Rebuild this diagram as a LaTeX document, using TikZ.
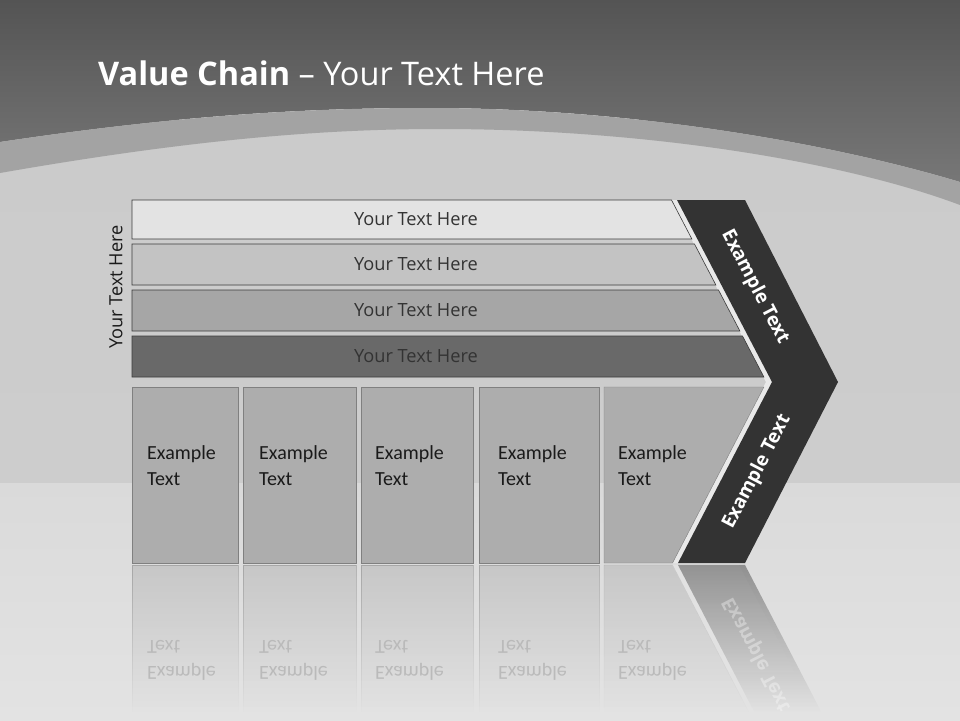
\documentclass[tikz,border=0pt]{standalone}
\usepackage{fontspec}
\setmainfont{Carlito}
\newfontfamily\slidefont{Open Sans}
\usetikzlibrary{calc, fadings}

\tikzfading[name=reflectFade, top color=transparent!55, middle color=transparent!82, bottom color=transparent!100]

\begin{document}
\begin{tikzpicture}[x=1pt, y=-1pt,
    barText/.style={font=\slidefont\fontsize{18.2}{22}\selectfont, text=barTextColour, inner sep=0pt},
    boxText/.style={font=\fontsize{20}{26}\selectfont, text=boxTextColour, align=left, anchor=north west, inner sep=0pt},
    armText/.style={font=\slidefont\bfseries\fontsize{19}{23}\selectfont, text=white, inner sep=0pt},
    mirrorText/.style={boxText, text=mirrorColour, yscale=-1},
    reflection/.style={path fading=reflectFade}]
    % Define colours
    \definecolor{titleTop}{HTML}{545454}
    \definecolor{titleBottom}{HTML}{777777}
    \definecolor{bandColour}{HTML}{A3A3A3}
    \definecolor{skyTop}{HTML}{CBCBCB}
    \definecolor{skyBottom}{HTML}{CDCDCD}
    \definecolor{streakColour}{HTML}{DCDCDC}
    \definecolor{floorTop}{HTML}{DADADA}
    \definecolor{floorBottom}{HTML}{E3E3E3}
    \definecolor{barBorder}{HTML}{3C3C3C}
    \definecolor{barOne}{HTML}{E3E3E3}
    \definecolor{barTwo}{HTML}{C3C3C3}
    \definecolor{barThree}{HTML}{A6A6A6}
    \definecolor{barFour}{HTML}{696969}
    \definecolor{barTextColour}{HTML}{333333}
    \definecolor{boxFill}{HTML}{ADADAD}
    \definecolor{boxBorder}{HTML}{808080}
    \definecolor{boxTextColour}{HTML}{1A1A1A}
    \definecolor{mirrorColour}{HTML}{BABABA}
    \definecolor{chevronFill}{HTML}{333333}
    \definecolor{haloColour}{HTML}{E9E9E9}

    % Define slope of the chevron edges
    \def\slope{0.522}

    % Fix the page size
    \useasboundingbox (0,0) rectangle (960,720);

    % Draw background
    \shade[top color=skyTop, bottom color=skyBottom] (0,120) rectangle (960,483);
    \shade[top color=skyBottom, middle color=streakColour, bottom color=skyBottom] (0,436) rectangle (960,462);
    \shade[top color=floorTop, bottom color=floorBottom] (0,483) rectangle (960,720);
    \shade[top color=titleTop, bottom color=titleBottom] (0,0) -- (960,0) -- (960,182)
        .. controls (820,140) and (620,108) .. (430,108)
        .. controls (330,108) and (200,112) .. (0,142) -- cycle;
    \fill[bandColour] (0,142) .. controls (200,112) and (330,108) .. (430,108)
        .. controls (620,108) and (820,140) .. (960,182) -- (960,205)
        .. controls (840,160) and (640,129) .. (440,129)
        .. controls (330,129) and (200,138) .. (0,173) -- cycle;

    % Title
    \node[anchor=base west, inner sep=0pt, text=white, font=\slidefont\fontsize{32.5}{38}\selectfont]
        (title) at (98,85) {\textbf{Value Chain} – Your Text Here};

    % Define coordinates for the chevron
    \coordinate (P1) at (677,200);
    \coordinate (P2) at (745,200);
    \coordinate (P3) at (838,382);
    \coordinate (P4) at (745,563);
    \coordinate (P5) at (678,563);
    \coordinate (P6) at (772,382);

    % Light rim behind the chevron
    \fill[haloColour] ($(P1)+(-6,0)$) -- ($(P2)+(-6,0)$) -- ($(P3)+(-6,0)$) -- ($(P4)+(-6,0)$)
        -- ($(P5)+(-6,0)$) -- ($(P6)+(-6,0)$) -- cycle;

    % Draw the four bars
    \foreach \bar/\ya/\yb/\col in {A/200/239/barOne, B/244/285/barTwo, C/290/331/barThree, D/336/377/barFour} {
        \filldraw[fill=\col, draw=barBorder, semithick] (132,\ya) -- ({671.5+(\ya-200)*\slope},\ya)
            -- ({671.5+(\yb-200)*\slope},\yb) -- (132,\yb) -- cycle;
        \node[barText] (bar\bar) at (416,{(\ya+\yb)/2}) {Your Text Here};
    }

    % Side label
    \node[barText, text=boxTextColour, rotate=90] (sideLabel) at (116,287) {Your Text Here};

    % Draw the boxes and their reflections
    \foreach \bx/\xa/\xb/\xt in {1/132/238/147, 2/243/356/259, 3/361/473/375, 4/479/599/498} {
        \filldraw[fill=boxFill, draw=boxBorder] (\xa,387) rectangle (\xb,563);
        \filldraw[fill=boxFill, draw=boxBorder, reflection] (\xa,565) rectangle (\xb,712);
        \node[boxText] (box\bx) at (\xt,445) {Example\\Text};
        \node[mirrorText] (mirror\bx) at (\xt,681) {Example\\Text};
    }
    \filldraw[fill=boxFill, draw=boxBorder] (604,387) -- (763.9,387) -- (672.5,563) -- (604,563) -- cycle;
    \filldraw[fill=boxFill, draw=boxBorder, reflection] (604,565) -- (672.5,565) -- (748.8,712) -- (604,712) -- cycle;
    \node[boxText] (box5) at (618,445) {Example\\Text};
    \node[mirrorText] (mirror5) at (618,681) {Example\\Text};

    % Draw the chevron
    \fill[chevronFill] (P1) -- (P2) -- (P3) -- (P4) -- (P5) -- (P6) -- cycle;
    \node[armText, rotate=-62.5] (upperArm) at (755,287) {Example Text};
    \node[armText, rotate=62.5] (lowerArm) at (757,472) {Example Text};

    % Reflection of the lower arm
    \fill[haloColour, reflection] (672,565) -- (739,565) -- (815.3,712) -- (748.3,712) -- cycle;
    \fill[chevronFill, reflection] (678,565) -- (745,565) -- (821.3,712) -- (754.3,712) -- cycle;
    \node[armText, text opacity=0.35, yscale=-1, rotate=62.5] (mirrorArm) at (757,654) {Example Text};
\end{tikzpicture}
\end{document}
